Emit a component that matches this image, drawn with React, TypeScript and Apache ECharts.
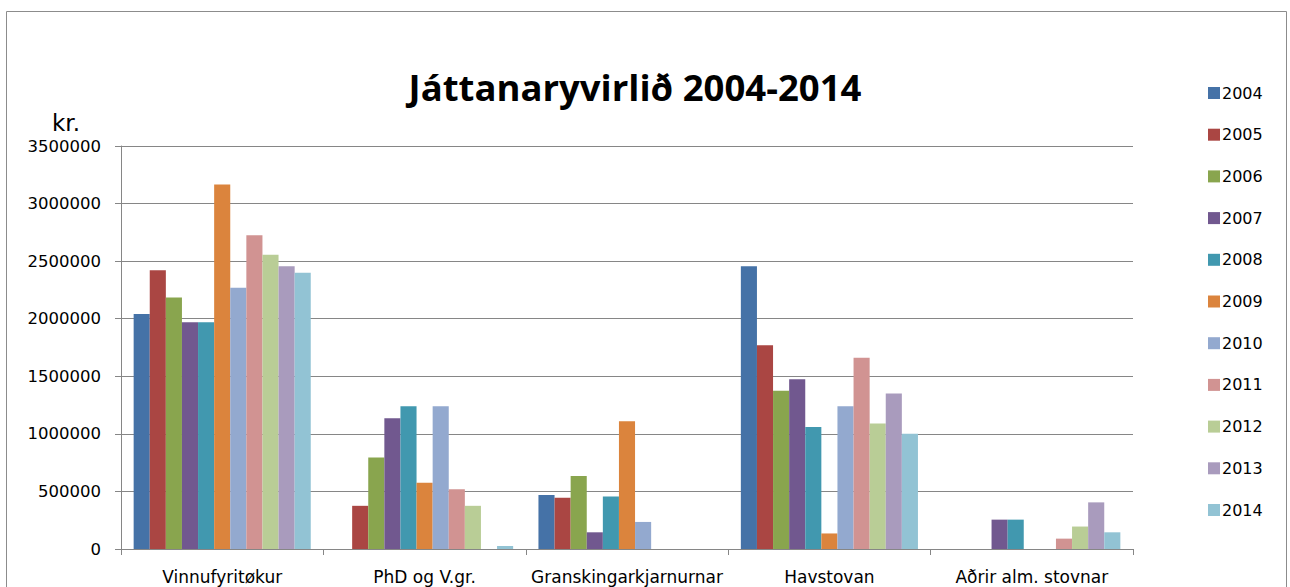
import React, { useEffect, useRef } from "react";
import * as echarts from "echarts";

const categories = ["Vinnufyritøkur", "PhD og V.gr.", "Granskingarkjarnurnar", "Havstovan", "Aðrir alm. stovnar"];
const years = ["2004", "2005", "2006", "2007", "2008", "2009", "2010", "2011", "2012", "2013", "2014"];
const colors = ["#4572A7", "#AA4643", "#89A54E", "#71588F", "#4198AF", "#DB843D", "#93A9CF", "#D19392", "#B9CD96", "#A99BBD", "#92C3D4"];

const v2004 = [2040000, 0, 470000, 2455000, 0];
const v2005 = [2420000, 375000, 445000, 1770000, 0];
const v2006 = [2185000, 795000, 635000, 1375000, 0];
const v2007 = [1970000, 1135000, 145000, 1475000, 255000];
const v2008 = [1970000, 1240000, 455000, 1060000, 255000];
const v2009 = [3165000, 575000, 1110000, 135000, 0];
const v2010 = [2270000, 1240000, 235000, 1240000, 0];
const v2011 = [2725000, 520000, 0, 1660000, 90000];
const v2012 = [2555000, 375000, 0, 1090000, 195000];
const v2013 = [2455000, 0, 0, 1350000, 405000];
const v2014 = [2400000, 25000, 0, 1000000, 145000];
const seriesValues = [v2004, v2005, v2006, v2007, v2008, v2009, v2010, v2011, v2012, v2013, v2014];
const yTicks = { min: 0, max: 3500000, interval: 500000 };

export default function App() {
  const ref = useRef<HTMLDivElement>(null);
  useEffect(() => {
    if (!ref.current) return;
    const chart = echarts.init(ref.current, null, { renderer: "svg" });
    chart.setOption({
      animation: false,
      backgroundColor: "#ffffff",
      color: colors,
      title: {
        text: "Játtanaryvirlið 2004-2014",
        left: 630,
        textAlign: "center",
        top: 63,
        textStyle: { fontFamily: "Open Sans", fontWeight: "bold", fontSize: 36.5, color: "#000" },
      },
      graphic: [
        {
          type: "rect",
          shape: { x: 6.5, y: 11.5, width: 1280, height: 600 },
          style: { fill: "none", stroke: "#8c8c8c", lineWidth: 1 },
          silent: true,
        },
        {
          type: "text",
          left: 52,
          top: 111,
          style: { text: "kr.", fontFamily: "DejaVu Sans", fontSize: 23, fill: "#000" },
        },
      ],
      legend: {
        orient: "vertical",
        left: 1203,
        top: 80,
        itemWidth: 12,
        itemHeight: 12,
        itemGap: 25.7,
        icon: "rect",
        data: years,
        textStyle: { fontFamily: "DejaVu Sans", fontSize: 16, lineHeight: 16, color: "#000", padding: [0, 0, 0, -3] },
      },
      grid: { left: 121, right: 157, top: 146, height: 403, containLabel: false },
      xAxis: {
        type: "category",
        data: categories,
        axisLine: { lineStyle: { color: "#868686", width: 1 } },
        axisTick: { show: true, length: 6, alignWithLabel: false, lineStyle: { color: "#868686" } },
        axisLabel: { fontFamily: "DejaVu Sans", fontSize: 17, color: "#000", margin: 19, interval: 0 },
        splitLine: { show: false },
      },
      yAxis: {
        type: "value",
        min: yTicks.min,
        max: yTicks.max,
        interval: yTicks.interval,
        axisLine: { show: true, lineStyle: { color: "#868686", width: 1 } },
        axisTick: { show: true, length: 6, lineStyle: { color: "#868686" } },
        axisLabel: { fontFamily: "DejaVu Sans", fontSize: 16.5, color: "#000", margin: 20, formatter: (v: number) => String(v) },
        splitLine: { show: true, lineStyle: { color: "#868686", width: 1 } },
      },
      series: years.map((y, i) => ({
        name: y,
        type: "bar",
        data: seriesValues[i],
        barGap: "0%",
        barCategoryGap: "12.5%",
        itemStyle: { color: colors[i] },
      })),
    });
    return () => chart.dispose();
  }, []);
  return <div ref={ref} style={{ position: "absolute", left: 0, top: 0, width: 1290, height: 587 }} />;
}
